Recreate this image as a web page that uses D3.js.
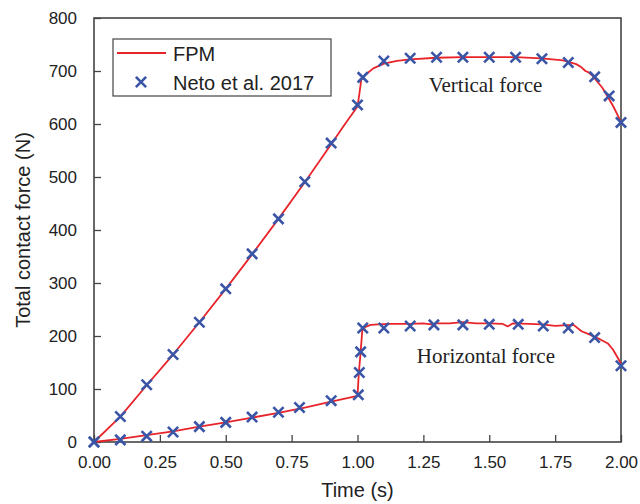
<!DOCTYPE html>
<html>
<head>
<meta charset="utf-8">
<script src="https://cdn.jsdelivr.net/npm/d3@7"></script>
<style>
  body { margin: 0; background: #fff; }
  svg { display: block; }
  .tick text { font-family: "Liberation Sans", Arial, sans-serif; font-size: 17px; fill: #222; }
</style>
</head>
<body>
<div id="chart"></div>
<script>
// FPM simulation (red lines)
const fpmVertT = [0, 0.1, 0.2, 0.3, 0.4, 0.5, 0.6, 0.7, 0.8, 0.9, 0.95, 1.0, 1.008, 1.014, 1.03, 1.06, 1.1, 1.15, 1.2, 1.3, 1.4, 1.5, 1.6, 1.7, 1.78, 1.83, 1.85, 1.865, 1.875, 1.89, 1.93, 1.97, 1.99, 2.0];
const fpmVertF = [0, 48, 107, 165, 226, 289, 354, 421, 490, 562, 598, 633, 660, 683, 693, 705, 714, 719, 722, 725, 726, 726, 726, 724, 720, 713, 707, 700, 698, 692, 668, 634, 614, 603];

const fpmHorT = [0, 0.1, 0.2, 0.3, 0.4, 0.5, 0.6, 0.7, 0.8, 0.9, 1.0, 1.005, 1.012, 1.018, 1.03, 1.05, 1.08, 1.12, 1.2, 1.25, 1.28, 1.3, 1.35, 1.4, 1.45, 1.5, 1.55, 1.57, 1.59, 1.65, 1.7, 1.75, 1.78, 1.82, 1.85, 1.88, 1.9, 1.92, 1.95, 1.97, 2.0];
const fpmHorF = [0, 6, 13, 20, 29, 37, 46, 55, 65, 76, 87, 130, 170, 210, 217, 221, 222, 223, 223, 224, 222, 224, 224, 226, 224, 224, 223, 218, 224, 223, 222, 219, 220, 221, 209, 203, 198, 194, 186, 174, 148];

// Neto et al. 2017 (blue crosses)
const netoVertT = [0, 0.1, 0.2, 0.3, 0.4, 0.5, 0.6, 0.7, 0.8, 0.9, 1.0, 1.02, 1.1, 1.2, 1.3, 1.4, 1.5, 1.6, 1.7, 1.8, 1.9, 1.955, 2.0];
const netoVertF = [0, 48, 108, 165, 226, 289, 355, 421, 491, 564, 636, 688, 719, 724, 726, 726, 726, 726, 723, 716, 689, 653, 603];

const netoHorT = [0, 0.1, 0.2, 0.3, 0.4, 0.5, 0.6, 0.7, 0.78, 0.9, 1.003, 1.007, 1.012, 1.02, 1.1, 1.2, 1.29, 1.4, 1.5, 1.61, 1.705, 1.8, 1.9, 2.0];
const netoHorF = [0, 4, 11, 19, 29, 37, 47, 56, 65, 78, 89, 131, 170, 215, 215, 219, 221, 221, 222, 222, 219, 215, 197, 144];

const xTicks = [0, 0.25, 0.5, 0.75, 1.0, 1.25, 1.5, 1.75, 2.0];
const yTicks = [0, 100, 200, 300, 400, 500, 600, 700, 800];

const width = 640, height = 504;
const margin = { top: 18, right: 19, bottom: 62, left: 94 };

const red = "#e8242b";
const blue = "#3a55a6";

const svg = d3.select("#chart")
  .append("svg")
  .attr("width", width)
  .attr("height", height);

const xScale = d3.scaleLinear().domain([0, 2]).range([margin.left, width - margin.right]);
const yScale = d3.scaleLinear().domain([0, 800]).range([height - margin.bottom, margin.top]);

// axes with inward ticks
const xAxis = d3.axisBottom(xScale)
  .tickValues(xTicks)
  .tickFormat(d3.format(".2f"))
  .tickSizeInner(-7)
  .tickSizeOuter(0)
  .tickPadding(14);
const gx = svg.append("g")
  .attr("transform", `translate(0, ${yScale(0)})`)
  .call(xAxis);

const yAxis = d3.axisLeft(yScale)
  .tickValues(yTicks)
  .tickSizeInner(-7)
  .tickSizeOuter(0)
  .tickPadding(17);
const gy = svg.append("g")
  .attr("transform", `translate(${xScale(0)}, 0)`)
  .call(yAxis);

[gx, gy].forEach(g => {
  g.select(".domain").remove();
  g.selectAll(".tick line").attr("stroke", "#444").attr("stroke-width", 1.3);
});

// frame
svg.append("rect")
  .attr("x", xScale(0))
  .attr("y", yScale(800))
  .attr("width", xScale(2) - xScale(0))
  .attr("height", yScale(0) - yScale(800))
  .attr("fill", "none")
  .attr("stroke", "#444")
  .attr("stroke-width", 1.6);

// axis titles
svg.append("text")
  .attr("x", (xScale(0) + xScale(2)) / 2)
  .attr("y", 497)
  .attr("text-anchor", "middle")
  .style("font-family", "Liberation Sans, Arial, sans-serif")
  .style("font-size", "20px")
  .style("fill", "#222")
  .text("Time (s)");

svg.append("text")
  .attr("transform", `translate(30, ${(yScale(0) + yScale(800)) / 2}) rotate(-90)`)
  .attr("text-anchor", "middle")
  .style("font-family", "Liberation Sans, Arial, sans-serif")
  .style("font-size", "20px")
  .style("fill", "#222")
  .text("Total contact force (N)");

// lines
const line = d3.line()
  .x(d => xScale(d[0]))
  .y(d => yScale(d[1]));

const plot = svg.append("g");

[[fpmVertT, fpmVertF], [fpmHorT, fpmHorF]].forEach(([ts, fs]) => {
  plot.append("path")
    .datum(d3.zip(ts, fs))
    .attr("d", line)
    .attr("fill", "none")
    .attr("stroke", red)
    .attr("stroke-width", 1.8)
    .attr("stroke-linejoin", "round");
});

// crosses
const cross = d3.symbol().type(d3.symbolX).size(70);
const netoPoints = d3.zip(netoVertT, netoVertF).concat(d3.zip(netoHorT, netoHorF));

plot.selectAll("path.neto")
  .data(netoPoints)
  .join("path")
  .attr("class", "neto")
  .attr("transform", d => `translate(${xScale(d[0])}, ${yScale(d[1])})`)
  .attr("d", cross)
  .attr("fill", "none")
  .attr("stroke", blue)
  .attr("stroke-width", 2.6);

// annotations
svg.append("text")
  .attr("x", xScale(1.27))
  .attr("y", yScale(660))
  .style("font-family", "Liberation Serif, Times New Roman, serif")
  .style("font-size", "21px")
  .style("fill", "#222")
  .text("Vertical force");

svg.append("text")
  .attr("x", xScale(1.225))
  .attr("y", yScale(150))
  .style("font-family", "Liberation Serif, Times New Roman, serif")
  .style("font-size", "21px")
  .style("fill", "#222")
  .text("Horizontal force");

// legend
const legend = svg.append("g").attr("transform", "translate(113, 39)");
legend.append("rect")
  .attr("width", 218)
  .attr("height", 57)
  .attr("fill", "#fff")
  .attr("stroke", "#444")
  .attr("stroke-width", 1.2);

legend.append("line")
  .attr("x1", 4).attr("x2", 53)
  .attr("y1", 14).attr("y2", 14)
  .attr("stroke", red)
  .attr("stroke-width", 1.8);
legend.append("text")
  .attr("x", 60).attr("y", 22)
  .style("font-family", "Liberation Sans, Arial, sans-serif")
  .style("font-size", "20px")
  .style("fill", "#222")
  .text("FPM");

legend.append("path")
  .attr("transform", "translate(28, 43)")
  .attr("d", cross)
  .attr("fill", "none")
  .attr("stroke", blue)
  .attr("stroke-width", 2.6);
legend.append("text")
  .attr("x", 60).attr("y", 51)
  .style("font-family", "Liberation Sans, Arial, sans-serif")
  .style("font-size", "20px")
  .style("fill", "#222")
  .text("Neto et al. 2017");
</script>
</body>
</html>
